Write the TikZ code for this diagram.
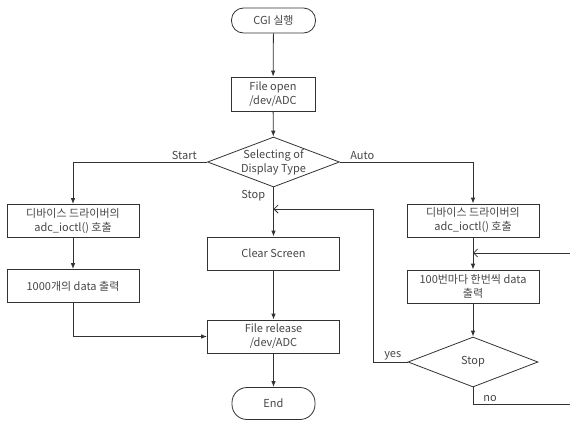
\documentclass[tikz,border=0pt]{standalone}
\usepackage{fontspec}
\setmainfont{Noto Sans CJK KR}
\usetikzlibrary{shapes.geometric,arrows.meta}
\definecolor{ink}{RGB}{70,70,70}
\definecolor{wire}{RGB}{50,50,50}

\begin{document}
\begin{tikzpicture}[x=1pt,y=-1pt,
    font=\fontsize{11}{14}\selectfont,text=ink,
    box/.style={draw=wire,line width=0.8pt,rectangle,minimum width=132pt,minimum height=33pt,inner sep=0pt,align=center},
    term/.style={draw=wire,line width=0.8pt,rectangle,rounded corners=12pt,minimum width=84pt,minimum height=25pt,inner sep=0pt},
    decide/.style={draw=wire,line width=0.8pt,diamond,minimum width=132pt,minimum height=50pt,inner sep=0pt},
    flow/.style={draw=wire,line width=0.8pt,-{Latex[length=6pt,width=4.5pt]}},
    back/.style={draw=wire,line width=0.8pt,-{Straight Barb[length=4pt,width=8pt]}},
    lbl/.style={inner sep=2pt}]
  \useasboundingbox (0,0) rectangle (570,421);
  \clip (0,0) rectangle (570,421);

  % main column
  \node[term] (cgi) at (273.5,20.5) {CGI 실행};
  \node[box,minimum width=84pt,minimum height=34pt] (open) at (273,94) {File open\\/dev/ADC};
  \node[decide,label={[align=center]center:Selecting of\\Display Type}] (sel) at (273.5,162) {};
  \node[box] (clear) at (273.5,253.5) {Clear Screen};
  \node[box] (release) at (273.5,336.5) {File release\\/dev/ADC};
  \node[term,minimum width=83pt,minimum height=32pt,rounded corners=15pt] (end) at (273.5,403.5) {End};

  % left branch
  \node[box] (lbox1) at (73,221) {디바이스 드라이버의\\adc\_ioctl() 호출};
  \node[box] (lbox2) at (73,286) {1000개의 data 출력};

  % right branch
  \node[box] (rbox1) at (473,220.5) {디바이스 드라이버의\\adc\_ioctl() 호출};
  \node[box] (rbox2) at (473,286.5) {100번마다 한번씩 data\\출력};
  \node[decide,minimum width=130pt] (stop) at (473,362) {Stop};

  \coordinate (turnL) at (373,209);
  \coordinate (joinL) at (273.5,209);
  \coordinate (joinR) at (473,253);
  \coordinate (edgeB) at (576,404);
  \coordinate (edgeT) at (576,253);

  \begin{scope}
    \draw[flow] (cgi) -- (open);
    \draw[flow] (open) -- (sel);
    \draw[flow] (sel.west) node[lbl,above left,xshift=-8pt] {Start} -| (lbox1);
    \draw[flow] (sel.east) node[lbl,above right,xshift=8pt] {Auto} -| (rbox1);
    \draw[flow] (sel.south) node[lbl,below left,xshift=-6pt] {Stop} -- (clear);
    \draw[flow] (clear) -- (release);
    \draw[flow] (release) -- (end);
    \draw[flow] (lbox1) -- (lbox2);
    \draw[flow] (lbox2) |- (release);
    \draw[flow] (rbox1) -- (rbox2);
    \draw[flow] (rbox2) -- (stop);
    \draw[back] (stop.west) node[lbl,above left,xshift=-4pt] {yes} -| (turnL) -- (joinL);
    \draw[back] (stop.south) |- node[lbl,above right,pos=0.5,xshift=8pt] {no} (edgeB) -- (edgeT) -- (joinR);
  \end{scope}
\end{tikzpicture}
\end{document}
